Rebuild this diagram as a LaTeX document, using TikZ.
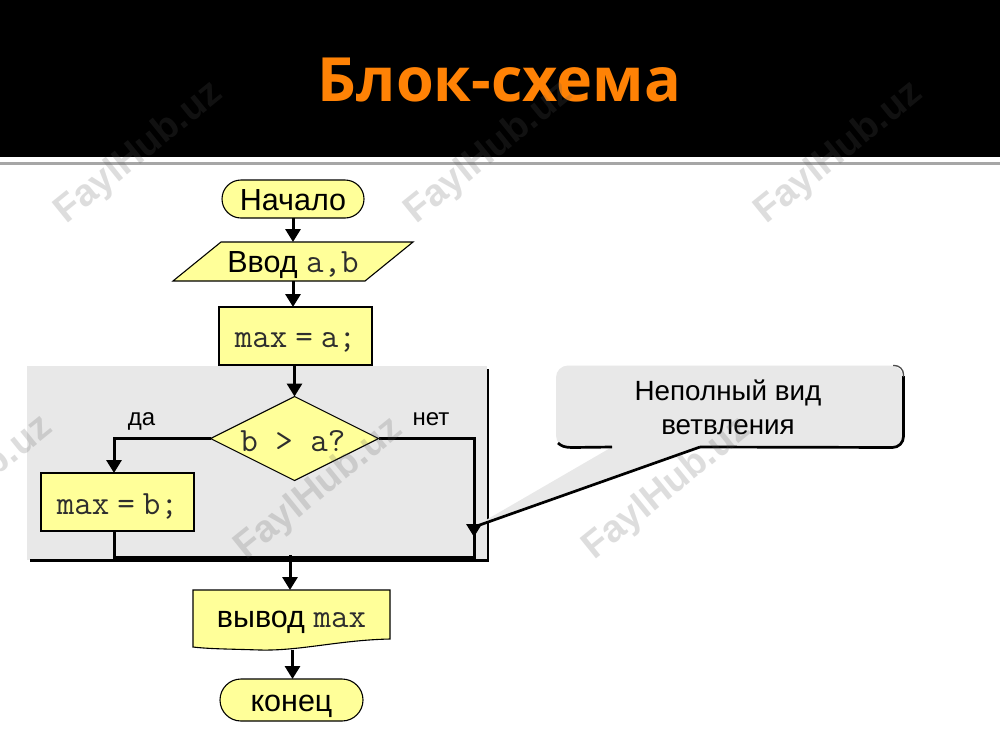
\documentclass[tikz,border=0pt]{standalone}
\usepackage{fontspec}
\setmainfont{Liberation Sans}
\newfontfamily\titlefont{Open Sans}
\usetikzlibrary{arrows.meta,shapes.geometric,shapes.misc}
\definecolor{blockyellow}{HTML}{FFFF99}
\definecolor{panelgray}{HTML}{E8E8E8}
\definecolor{titleorange}{HTML}{FF8205}
\definecolor{codegray}{HTML}{2E2E2E}
\newcommand{\code}[1]{{\ttfamily\fontsize{34}{34}\selectfont\color{codegray}#1}}
\tikzset{
  x=1pt,y=-1pt,
  every node/.style={inner sep=0pt,outer sep=0pt,font=\fontsize{30.5}{33}\selectfont},
  base drop/.style={text height=#1*2pt,text depth=0pt},
  blockline/.style={draw=black,line width=1.1pt,fill=blockyellow},
  terminal/.style={blockline,rounded rectangle,minimum width=142pt},
  procbox/.style={blockline,rectangle,minimum width=153pt,minimum height=58pt},
  testbox/.style={blockline,diamond,aspect=2,minimum width=168pt,minimum height=84pt},
  plainshape/.style={rectangle},
  flow/.style={line width=3pt,draw=black},
  flowarrow/.style={flow,-{Triangle[length=13pt,width=15pt]}},
  branchlabel/.style={font=\fontsize{24}{26}\selectfont},
  frameline/.style={draw=black,line width=2.7pt},
  mark text/.style={font=\bfseries\fontsize{38}{38}\selectfont,text=black!65,opacity=.2,rotate=39},
}
\begin{document}
\begin{tikzpicture}
\useasboundingbox (0,0) rectangle (1000,750);
\fill[white] (0,0) rectangle (1000,750);
% title band
\fill[black] (0,0) rectangle (1000,156.5);
\fill[gray!70] (0,161.5) rectangle (1000,165);
\node[text=titleorange,anchor=base,font=\titlefont\bfseries\fontsize{61}{61}\selectfont] (title) at (499.5,101) {Блок-схема};
% highlighted panel
\fill[panelgray] (27,366) rectangle (487,560);
\coordinate (frameTop) at (488,369);
\coordinate (frameCorner) at (488,560.5);
\coordinate (frameEnd) at (30,560.5);
\draw[frameline,line join=miter] (frameTop) -- (frameCorner) -- (frameEnd);
% callout
\coordinate (tip) at (474,527);
\coordinate (tailL) at (612,447);
\coordinate (tailR) at (700,447);
\node[rectangle,rounded corners=12pt,fill=panelgray,minimum width=347pt,minimum height=82pt] (note) at (729.5,406.5) {};
\fill[panelgray] (tailL) -- (tip) -- (tailR) -- cycle;
\node[align=center,font=\fontsize{27.8}{33.5}\selectfont] (notetext) at (728,407.5) {Неполный вид\\ветвления};
\draw[frameline,rounded corners=11pt] (tailR) -- (903.5,447.5) -- (903.5,376);
\draw[line width=1.3pt,draw=gray!60!black,rounded corners=9pt] (903.5,377) -- (903.5,365.5) -- (893,365.5);
\draw[frameline] (tailL) -- (572,447.5) .. controls (565,447.5) and (561,446) .. (558,443);
% blocks
\node[terminal,minimum height=38pt,base drop=11] (start) at (293,199) {Начало};
\fill[blockyellow,draw=black,line width=1.1pt] (221,242) -- (413,242) -- (365,281) -- (173,281) -- cycle;
\node[plainshape,minimum width=144pt,minimum height=39pt,base drop=11] (input) at (293,261.5) {Ввод \code{a,b}};
\node[procbox,base drop=11] (maxa) at (295.5,336) {\code{max\hspace{8pt}=\hspace{8pt}a;}};
\node[testbox] (cond) at (294.5,438.5) {};
\node[base drop=12.5] (condtext) at (293,438.5) {\code{b > a?}};
\node[procbox,base drop=12] (maxb) at (117.5,502) {\code{max\hspace{8pt}=\hspace{8pt}b;}};
\fill[blockyellow,draw=black,line width=1.1pt] (193,590) -- (390,590) -- (390,639)
  .. controls (340,640) and (300,651) .. (260,650) .. controls (230,649) and (210,649) .. (193,647) -- cycle;
\node[plainshape,minimum width=197pt,minimum height=60pt,base drop=7] (output) at (291.5,620) {вывод \code{max}};
\node[terminal,minimum height=42pt,minimum width=143pt,base drop=11.7] (finish) at (291.5,700) {конец};
% connectors
\coordinate (yesCorner) at (114,438.5);
\coordinate (noCorner) at (474,438.5);
\coordinate (noJoin) at (474,557.5);
\coordinate (yesJoin) at (114,557.5);
\coordinate (merge) at (290,555);
\draw[flowarrow] (start.south) -- (input.north);
\draw[flowarrow] (input.south) -- (input.south |- maxa.north);
\draw[flowarrow] (cond.north |- maxa.south) -- (cond.north);
\draw[flowarrow] (cond.west) -- (yesCorner) -- (yesCorner |- maxb.north);
\draw[flow,line join=miter] (cond.east) -- (noCorner) -- (noJoin) -- (yesJoin) -- (yesJoin |- maxb.south);
\draw[flowarrow] (noCorner) -- (tip |- 0,537);
\draw[flowarrow] (merge) -- (merge |- output.north);
\draw[flowarrow] (292.5,650) -- (292.5,679);
\draw[frameline] (tailR) -- (tip);
% branch labels
\node[branchlabel,base drop=9] (yes) at (141.5,416) {да};
\node[branchlabel,base drop=9] (no) at (431,416) {нет};
% watermarks
\node[mark text] (w1) at (139,153) {FaylHub.uz};
\node[mark text] (w2) at (489,153) {FaylHub.uz};
\node[mark text] (w3) at (839,153) {FaylHub.uz};
\node[mark text] (w4) at (-31,487) {FaylHub.uz};
\node[mark text] (w5) at (319,489) {FaylHub.uz};
\node[mark text] (w6) at (667,489) {FaylHub.uz};
\end{tikzpicture}
\end{document}
